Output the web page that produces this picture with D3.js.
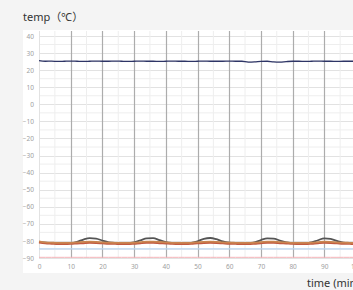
<!DOCTYPE html>
<html>
<head>
<meta charset="utf-8">
<script src="https://cdn.jsdelivr.net/npm/d3@7"></script>
<style>
  html, body { margin: 0; padding: 0; background: #f4f4f4; overflow: hidden; }
  svg { display: block; font-family: "Noto Sans", "Noto Sans CJK SC", sans-serif; }
</style>
</head>
<body>
<div id="chart-area"></div>
<script>
// time (min)
var times = [0, 2, 4, 6, 8, 10, 12, 14, 16, 18, 20, 22, 24, 26, 28, 30, 32, 34, 36, 38,
	40, 42, 44, 46, 48, 50, 52, 54, 56, 58, 60, 62, 64, 66, 68, 70, 72, 74, 76, 78,
	80, 82, 84, 86, 88, 90, 92, 94, 96, 98, 100, 102, 104];

// shelf temperature
var shelf = [25.6, 25.2, 25.3, 25.1, 25.2, 25.3, 25.2, 25.1, 25.2, 25.3, 25.2, 25.2, 25.3, 25.2, 25.1, 25.2, 25.3, 25.2, 25.2, 25.1,
	25.2, 25.3, 25.2, 25.2, 25.1, 25.2, 25.3, 25.2, 25.2, 25.2, 25.3, 25.2, 25.2, 24.7, 24.8, 25.1, 25.2, 24.8, 24.7, 25.0,
	25.2, 25.2, 25.1, 25.2, 25.3, 25.2, 25.2, 25.1, 25.2, 25.2, 25.2, 25.2, 25.2];

// cold trap
var trap = [-80.5, -81.0, -81.2, -81.5, -81.5, -81.3, -80.5, -79.2, -78.4, -78.6, -79.8, -80.8, -81.2, -81.4, -81.3, -80.8, -79.6, -78.5, -78.4, -79.5,
	-80.7, -81.2, -81.4, -81.5, -81.2, -80.2, -78.8, -78.3, -79.0, -80.3, -81.0, -81.3, -81.5, -81.4, -80.8, -79.5, -78.5, -78.6, -79.8, -80.9,
	-81.3, -81.5, -81.4, -80.9, -79.6, -78.5, -78.8, -80.0, -81.0, -81.3, -81.4, -81.4, -81.2];

// product probes
var probe1 = [-80.2, -80.8, -81.0, -81.2, -81.2, -81.1, -80.9, -80.6, -80.4, -80.5, -80.8, -81.0, -81.1, -81.2, -81.2, -81.0, -80.7, -80.4, -80.4, -80.6,
	-80.9, -81.1, -81.2, -81.2, -81.1, -80.8, -80.5, -80.4, -80.5, -80.8, -81.0, -81.1, -81.2, -81.2, -81.0, -80.7, -80.4, -80.4, -80.7, -80.9,
	-81.1, -81.2, -81.2, -81.0, -80.7, -80.4, -80.5, -80.8, -81.0, -81.1, -81.2, -81.2, -81.1];
var probe2 = [-80.9, -81.4, -81.6, -81.8, -81.8, -81.7, -81.5, -81.3, -81.1, -81.2, -81.4, -81.6, -81.7, -81.8, -81.8, -81.6, -81.3, -81.1, -81.1, -81.3,
	-81.5, -81.7, -81.8, -81.8, -81.7, -81.4, -81.2, -81.1, -81.2, -81.4, -81.6, -81.7, -81.8, -81.8, -81.6, -81.3, -81.1, -81.1, -81.3, -81.5,
	-81.7, -81.8, -81.8, -81.6, -81.3, -81.1, -81.2, -81.4, -81.6, -81.7, -81.8, -81.8, -81.7];
var probe3 = [-84.6, -84.6, -84.7, -84.7, -84.6, -84.6, -84.7, -84.6, -84.6, -84.6, -84.7, -84.7, -84.6, -84.6, -84.6, -84.7, -84.7, -84.6, -84.6, -84.6,
	-84.7, -84.6, -84.6, -84.6, -84.7, -84.7, -84.6, -84.6, -84.6, -84.6, -84.7, -84.7, -84.6, -84.6, -84.6, -84.7, -84.6, -84.6, -84.6, -84.7,
	-84.7, -84.6, -84.6, -84.6, -84.7, -84.6, -84.6, -84.6, -84.7, -84.6, -84.6, -84.6, -84.6];
var probe4 = [-89.6, -89.6, -89.6, -89.6, -89.6, -89.6, -89.6, -89.6, -89.6, -89.6, -89.6, -89.6, -89.6, -89.6, -89.6, -89.6, -89.6, -89.6, -89.6, -89.6,
	-89.6, -89.6, -89.6, -89.6, -89.6, -89.6, -89.6, -89.6, -89.6, -89.6, -89.6, -89.6, -89.6, -89.6, -89.6, -89.6, -89.6, -89.6, -89.6, -89.6,
	-89.6, -89.6, -89.6, -89.6, -89.6, -89.6, -89.6, -89.6, -89.6, -89.6, -89.6, -89.6, -89.6];

var yTicks = [40, 30, 20, 10, 0, -10, -20, -30, -40, -50, -60, -70, -80, -90];
var xTicks = [0, 10, 20, 30, 40, 50, 60, 70, 80, 90, 100];

var width = 353;
var height = 290;

var svg = d3.select("#chart-area")
	.append("svg")
	.attr("width", width)
	.attr("height", height);

var xScale = d3.scaleLinear()
	.domain([0, 100])
	.range([39, 356]);

var yScale = d3.scaleLinear()
	.domain([-90, 40])
	.range([258, 36]);

// white panel
svg.append("rect")
	.attr("x", 23)
	.attr("y", 30)
	.attr("width", 400)
	.attr("height", 243)
	.attr("fill", "#fff");

svg.append("text")
	.attr("x", 23)
	.attr("y", 21)
	.attr("font-size", "11px")
	.attr("fill", "#333")
	.text("temp（℃）");

svg.append("text")
	.attr("x", 307)
	.attr("y", 287)
	.attr("font-size", "11px")
	.attr("fill", "#333")
	.text("time (min)");

var grid = svg.append("g");

// minor horizontal grid
grid.selectAll(".hminor")
	.data(d3.range(-85, 40, 10))
	.enter().append("line")
	.attr("x1", xScale(0)).attr("x2", 400)
	.attr("y1", d => yScale(d)).attr("y2", d => yScale(d))
	.attr("stroke", "#eeeeee");

// major horizontal grid
grid.selectAll(".hmajor")
	.data(yTicks)
	.enter().append("line")
	.attr("x1", xScale(0)).attr("x2", 400)
	.attr("y1", d => Math.round(yScale(d)) + 0.5).attr("y2", d => Math.round(yScale(d)) + 0.5)
	.attr("stroke", "#e2e2e2");

// minor vertical grid
grid.selectAll(".vminor")
	.data(d3.range(5, 105, 10))
	.enter().append("line")
	.attr("x1", d => xScale(d)).attr("x2", d => xScale(d))
	.attr("y1", 31).attr("y2", yScale(-90))
	.attr("stroke", "#eeeeee");

// major vertical grid
grid.selectAll(".vmajor")
	.data(xTicks.slice(1))
	.enter().append("line")
	.attr("x1", d => Math.round(xScale(d)) + 0.5).attr("x2", d => Math.round(xScale(d)) + 0.5)
	.attr("y1", 31).attr("y2", yScale(-90))
	.attr("stroke", "#acacac")
	.attr("stroke-width", 1.2);

// left axis line
svg.append("line")
	.attr("x1", 39.5).attr("x2", 39.5)
	.attr("y1", 31).attr("y2", yScale(-90))
	.attr("stroke", "#e2e2e2");

var yAxis = d3.axisLeft(yScale).tickValues(yTicks).tickSize(0).tickPadding(0);
var yAxisG = svg.append("g")
	.attr("transform", "translate(34,0)")
	.call(yAxis);
yAxisG.select(".domain").remove();
yAxisG.selectAll("text")
	.attr("fill", "#a0a0a0")
	.attr("font-size", "6.5px")
	.attr("font-family", "Noto Sans");

var xAxis = d3.axisBottom(xScale).tickValues(xTicks).tickSize(0).tickPadding(0);
var xAxisG = svg.append("g")
	.attr("transform", "translate(0,264)")
	.call(xAxis);
xAxisG.select(".domain").remove();
xAxisG.selectAll("text")
	.attr("fill", "#a0a0a0")
	.attr("font-size", "6.5px")
	.attr("font-family", "Noto Sans");

var series = [
	{ name: "probe4", values: probe4, color: "#f4b3b8", w: 1 },
	{ name: "probe3", values: probe3, color: "#b9d3ef", w: 1.2 },
	{ name: "trap", values: trap, color: "#555555", w: 1.8 },
	{ name: "probe2", values: probe2, color: "#c25a40", w: 2 },
	{ name: "probe1", values: probe1, color: "#c98550", w: 1.8 },
	{ name: "shelf", values: shelf, color: "#2e3566", w: 1.3 }
];

var line = d3.line()
	.x((d, i) => xScale(times[i]))
	.y(d => yScale(d))
	.curve(d3.curveMonotoneX);

svg.selectAll(".series")
	.data(series)
	.enter().append("path")
	.attr("class", "series")
	.attr("d", d => line(d.values))
	.attr("fill", "none")
	.attr("stroke", d => d.color)
	.attr("stroke-width", d => d.w)
	.attr("stroke-linejoin", "round");
</script>
</body>
</html>
